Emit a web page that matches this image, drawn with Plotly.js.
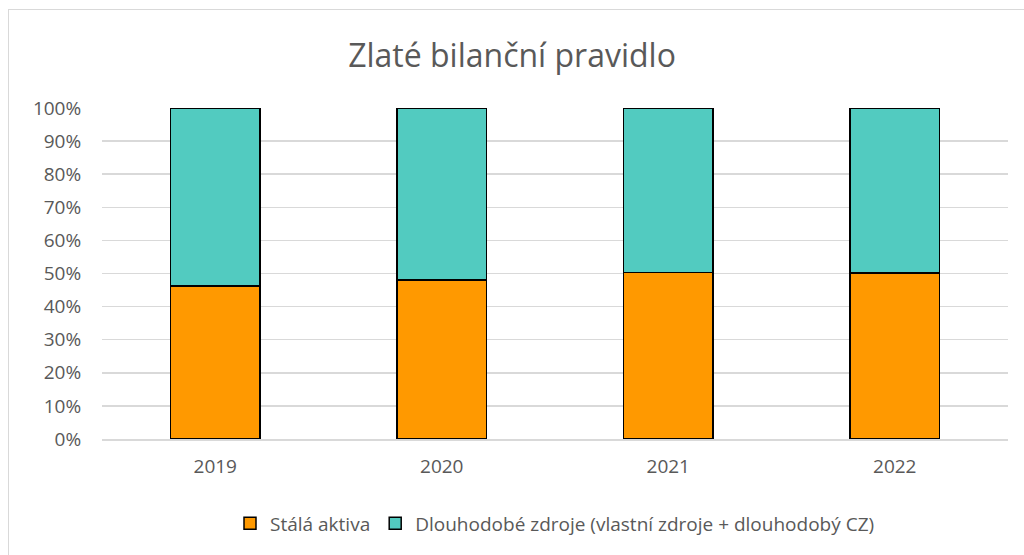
<!DOCTYPE html>
<html>
<head>
<meta charset="utf-8">
<script src="https://cdn.plot.ly/plotly-3.0.1.min.js"></script>
<style>
html,body{margin:0;padding:0;background:#fff;}
#wrap{position:relative;width:1024px;height:555px;overflow:hidden;}
#frame{position:absolute;left:8px;top:9px;width:1100px;height:600px;border-left:1.5px solid #d9d9d9;border-top:1.5px solid #d9d9d9;pointer-events:none;}
#chart{position:absolute;left:0;top:0;width:1024px;height:555px;}
</style>
</head>
<body>
<div id="wrap"><div id="chart"></div><div id="frame"></div></div>
<script>
const categories = ["2019", "2020", "2021", "2022"];
const staleAktiva = [0.462, 0.480, 0.503, 0.502];
const dlouhodobeZdroje = [0.538, 0.520, 0.497, 0.498];
const seriesNames = ["Stálá aktiva", "Dlouhodobé zdroje (vlastní zdroje + dlouhodobý CZ)"];
const tickVals = [0,0.1,0.2,0.3,0.4,0.5,0.6,0.7,0.8,0.9,1.0];
const tickText = ["0%","10%","20%","30%","40%","50%","60%","70%","80%","90%","100%"];

const font = "Open Sans, Noto Sans, sans-serif";
const traces = [
  {type:"bar", name:seriesNames[0], x:categories, y:staleAktiva,
   marker:{color:"#ff9900", line:{color:"#000000", width:1.5}}},
  {type:"bar", name:seriesNames[1], x:categories, y:dlouhodobeZdroje,
   marker:{color:"#52cbc0", line:{color:"#000000", width:1.5}}}
];
const layout = {
  width:1024, height:555,
  barmode:"stack", bargap:0.603,
  paper_bgcolor:"#fff", plot_bgcolor:"#fff",
  margin:{l:102, r:16, t:108, b:116},
  title:{text:"Zlaté bilanční pravidlo", font:{family:font, size:32, color:"#595959"}, x:0.5, xanchor:"center", y:0.9, yanchor:"middle"},
  xaxis:{type:"category", tickfont:{family:font, size:19, color:"#595959"}, showline:true, linecolor:"#d9d9d9", linewidth:1.5, ticks:"outside", ticklen:10, tickcolor:"rgba(0,0,0,0)", showgrid:false, automargin:false},
  yaxis:{range:[0,1], tickvals:tickVals, ticktext:tickText, tickfont:{family:font, size:19, color:"#595959"}, showgrid:true, gridcolor:"#d9d9d9", gridwidth:1.5, zeroline:false, ticks:"outside", ticklen:16, tickcolor:"rgba(0,0,0,0)", automargin:false},
  showlegend:true,
  legend:{orientation:"h", x:0.5, xanchor:"center", y:-0.255, yanchor:"middle", font:{family:font, size:19, color:"#595959"}, traceorder:"normal", itemwidth:30}
};
Plotly.newPlot("chart", traces, layout, {displayModeBar:false, staticPlot:true});
</script>
</body>
</html>
